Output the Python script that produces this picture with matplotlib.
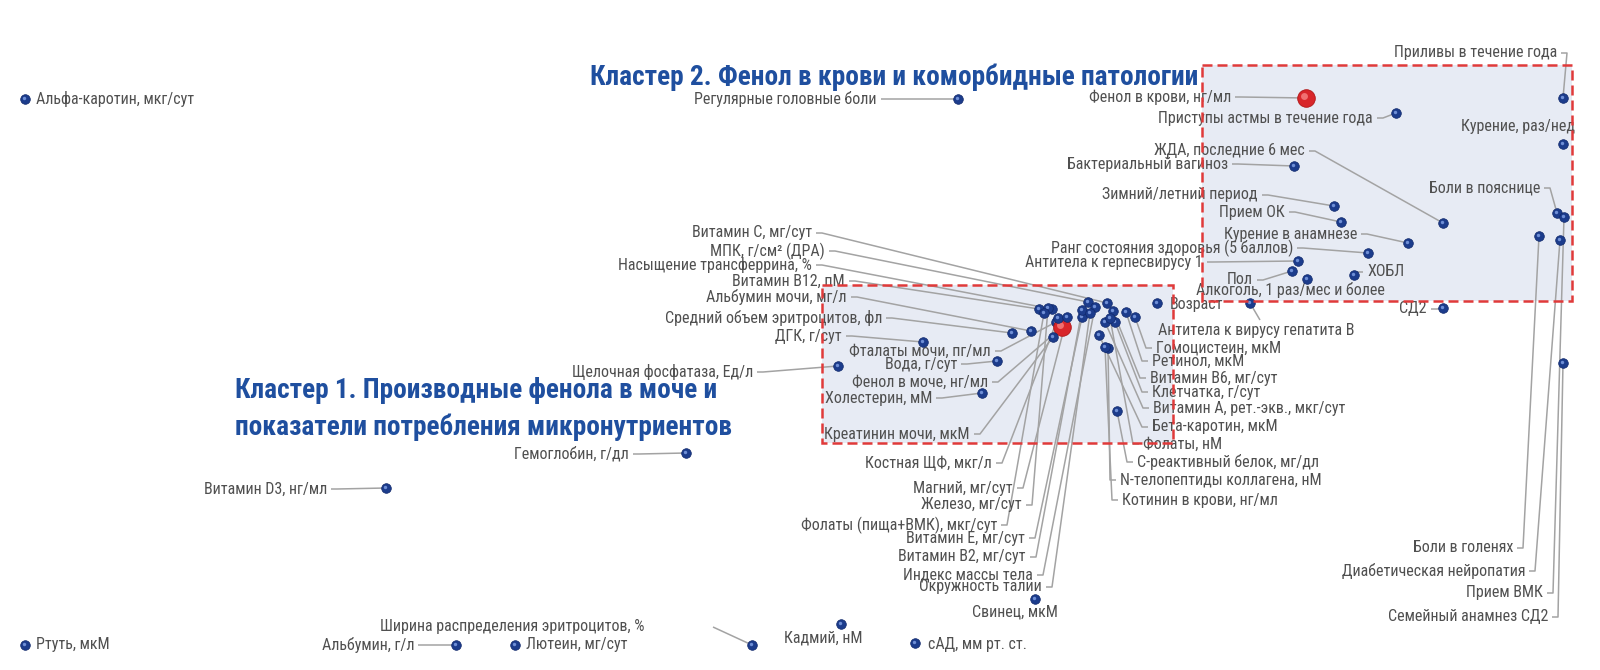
import matplotlib
matplotlib.use("Agg")
import matplotlib.pyplot as plt
from matplotlib import font_manager
from matplotlib.patches import Rectangle

# -------------------- данные: координаты показателей на карте --------------------
NAMES = [
    # отдельные показатели
    "Альфа-каротин, мкг/сут", "Регулярные головные боли", "Щелочная фосфатаза, Ед/л",
    "Гемоглобин, г/дл", "Витамин D3, нг/мл", "Ртуть, мкМ", "Альбумин, г/л",
    "Лютеин, мг/сут", "Ширина распределения эритроцитов, %", "Кадмий, нМ",
    "сАД, мм рт. ст.", "Свинец, мкМ",
    # кластер 1, слева
    "Витамин С, мг/сут", "МПК, г/см² (ДРА)", "Насыщение трансферрина, %",
    "Витамин В12, пМ", "Альбумин мочи, мг/л", "Средний объем эритроцитов, фл",
    "ДГК, г/сут", "Фталаты мочи, пг/мл", "Вода, г/сут", "Фенол в моче, нг/мл",
    "Холестерин, мМ", "Креатинин мочи, мкМ",
    # кластер 1, снизу
    "Костная ЩФ, мкг/л", "Магний, мг/сут", "Железо, мг/сут",
    "Фолаты (пища+ВМК), мкг/сут", "Витамин Е, мг/сут", "Витамин В2, мг/сут",
    "Индекс массы тела", "Окружность талии",
    # кластер 1, справа
    "Возраст", "Антитела к вирусу гепатита В", "Гомоцистеин, мкМ", "Ретинол, мкМ",
    "Витамин В6, мг/сут", "Клетчатка, г/сут", "Витамин А, рет.-экв., мкг/сут",
    "Бета-каротин, мкМ", "Фолаты, нМ", "С-реактивный белок, мг/дл",
    "N-телопептиды коллагена, нМ", "Котинин в крови, нг/мл",
    # кластер 2
    "Фенол в крови, нг/мл", "Приступы астмы в течение года", "Приливы в течение года",
    "Курение, раз/нед", "ЖДА, последние 6 мес", "Бактериальный вагиноз",
    "Зимний/летний период", "Прием ОК", "Курение в анамнезе",
    "Ранг состояния здоровья (5 баллов)", "Антитела к герпесвирусу 1", "Пол", "ХОБЛ",
    "Алкоголь, 1 раз/мес и более", "Боли в пояснице", "СД2", "Боли в голенях",
    "Диабетическая нейропатия", "Прием ВМК", "Семейный анамнез СД2",
]
X = [25, 958, 838, 686, 386, 25, 456, 515, 752, 841, 915, 1035,
     1107, 1088, 1052, 1039, 1031, 1012, 923, 1056, 997, 1062, 982, 1053,
     1058, 1067, 1048, 1044, 1082, 1082, 1095, 1090,
     1157, 1250, 1135, 1126, 1113, 1115, 1105, 1099, 1110, 1117, 1108, 1105,
     1306, 1396, 1563, 1563, 1443, 1294, 1334, 1341, 1408, 1368, 1298, 1292, 1354,
     1307, 1557, 1443, 1539, 1560, 1564, 1563]
Y = [99, 99, 366, 453, 488, 645, 645, 645, 645, 624, 643, 599,
     303, 302, 309, 309, 331, 333, 342, 322, 361, 327, 393, 337,
     318, 317, 308, 313, 317, 310, 307, 313,
     303, 303, 317, 312, 311, 322, 322, 335, 318, 411, 348, 347,
     98, 113, 98, 144, 223, 166, 206, 222, 243, 253, 261, 271, 275,
     279, 213, 308, 236, 240, 217, 363]
HIGHLIGHT = ["Фенол в крови, нг/мл", "Фенол в моче, нг/мл"]

TITLE_1 = ["Кластер 1. Производные фенола в моче и",
           "показатели потребления микронутриентов"]
TITLE_2 = "Кластер 2. Фенол в крови и коморбидные патологии"

# -------------------- раскладка подписей --------------------
# (x, y, выравнивание, выноска): "tick" - выноска от края подписи,
# "none" - без выноски, (x, y) - начало выноски
LABEL_POS = {
    "Альфа-каротин, мкг/сут": (36, 99, "left", "none"),
    "Регулярные головные боли": (877, 99, "right", "tick"),
    "Щелочная фосфатаза, Ед/л": (753, 372, "right", "tick"),
    "Гемоглобин, г/дл": (629, 454, "right", "tick"),
    "Витамин D3, нг/мл": (327, 489, "right", "tick"),
    "Ртуть, мкМ": (36, 645, "left", "none"),
    "Альбумин, г/л": (414, 645, "right", "tick"),
    "Лютеин, мг/сут": (526, 645, "left", "none"),
    "Ширина распределения эритроцитов, %": (645, 627, "right", (713, 627)),
    "Кадмий, нМ": (823, 638, "center", "none"),
    "сАД, мм рт. ст.": (928, 645, "left", "none"),
    "Свинец, мкМ": (1015, 612, "center", "none"),
    "Витамин С, мг/сут": (812, 233, "right", "tick"),
    "МПК, г/см² (ДРА)": (825, 251, "right", "tick"),
    "Насыщение трансферрина, %": (812, 265, "right", "tick"),
    "Витамин В12, пМ": (845, 281, "right", "tick"),
    "Альбумин мочи, мг/л": (847, 297, "right", "tick"),
    "Средний объем эритроцитов, фл": (882, 318, "right", "tick"),
    "ДГК, г/сут": (842, 336, "right", "tick"),
    "Фталаты мочи, пг/мл": (991, 351, "right", "tick"),
    "Вода, г/сут": (957, 364, "right", "tick"),
    "Фенол в моче, нг/мл": (988, 382, "right", "tick"),
    "Холестерин, мМ": (932, 398, "right", "tick"),
    "Креатинин мочи, мкМ": (970, 434, "right", "tick"),
    "Костная ЩФ, мкг/л": (992, 463, "right", "tick"),
    "Магний, мг/сут": (1013, 488, "right", "tick"),
    "Железо, мг/сут": (1022, 505, "right", "tick"),
    "Фолаты (пища+ВМК), мкг/сут": (997, 525, "right", "tick"),
    "Витамин Е, мг/сут": (1025, 538, "right", "tick"),
    "Витамин В2, мг/сут": (1026, 557, "right", "tick"),
    "Индекс массы тела": (1033, 575, "right", "tick"),
    "Окружность талии": (1042, 587, "right", "tick"),
    "Возраст": (1170, 305, "left", "none"),
    "Антитела к вирусу гепатита В": (1158, 330, "left", (1260, 320)),
    "Гомоцистеин, мкМ": (1156, 348, "left", "tick"),
    "Ретинол, мкМ": (1152, 361, "left", "tick"),
    "Витамин В6, мг/сут": (1150, 378, "left", "tick"),
    "Клетчатка, г/сут": (1152, 392, "left", "tick"),
    "Витамин А, рет.-экв., мкг/сут": (1153, 408, "left", "tick"),
    "Бета-каротин, мкМ": (1152, 427, "left", "tick"),
    "Фолаты, нМ": (1143, 444, "left", "tick"),
    "С-реактивный белок, мг/дл": (1137, 462, "left", "tick"),
    "N-телопептиды коллагена, нМ": (1120, 480, "left", "tick"),
    "Котинин в крови, нг/мл": (1122, 500, "left", "tick"),
    "Фенол в крови, нг/мл": (1231, 97, "right", "tick"),
    "Приступы астмы в течение года": (1373, 118, "right", "tick"),
    "Приливы в течение года": (1557, 53, "right", "tick"),
    "Курение, раз/нед": (1575, 127, "right", "none"),
    "ЖДА, последние 6 мес": (1305, 151, "right", "tick"),
    "Бактериальный вагиноз": (1228, 164, "right", "tick"),
    "Зимний/летний период": (1258, 195, "right", "tick"),
    "Прием ОК": (1285, 212, "right", "tick"),
    "Курение в анамнезе": (1357, 234, "right", "tick"),
    "Ранг состояния здоровья (5 баллов)": (1293, 248, "right", "tick"),
    "Антитела к герпесвирусу 1": (1203, 262, "right", "tick"),
    "Пол": (1253, 280, "right", "tick"),
    "ХОБЛ": (1367, 272, "left", "tick"),
    "Алкоголь, 1 раз/мес и более": (1290, 290, "center", "none"),
    "Боли в пояснице": (1540, 188, "right", "tick"),
    "СД2": (1427, 309, "right", "tick"),
    "Боли в голенях": (1513, 548, "right", "tick"),
    "Диабетическая нейропатия": (1525, 571, "right", "tick"),
    "Прием ВМК": (1543, 593, "right", "tick"),
    "Семейный анамнез СД2": (1548, 617, "right", "tick"),
}

# рамки кластеров (x0, y0, x1, y1)
BOXES = [(822, 285, 1173, 443), (1202, 65, 1572, 301)]

LABEL_COLOR = "#505050"
LINE_COLOR = "#a3a3a3"
TITLE_COLOR = "#1f4f9f"
DOT_COLOR = "#1c3c8c"
RED_COLOR = "#d8262a"


def pick_font(candidates):
    have = {f.name for f in font_manager.fontManager.ttflist}
    for name in candidates:
        if name in have:
            return name
    return "DejaVu Sans"


FONT = pick_font(["Roboto Condensed", "PT Sans Narrow", "Fira Sans Condensed",
                  "IBM Plex Sans Condensed", "Archivo Narrow"])
plt.rcParams["font.family"] = [FONT, "DejaVu Sans"]

fig = plt.figure(figsize=(16, 6.7), dpi=100)
ax = fig.add_axes([0, 0, 1, 1])
ax.set_xlim(0, 1600)
ax.set_ylim(670, 0)
ax.axis("off")

# фон рамок
for x0, y0, x1, y1 in BOXES:
    ax.add_patch(Rectangle((x0, y0), x1 - x0, y1 - y0, facecolor="#e7ebf4",
                           edgecolor="none", zorder=0))
    ax.add_patch(Rectangle((x0, y0), x1 - x0, y1 - y0, facecolor="none",
                           edgecolor="#e03a3a", lw=1.8, ls=(0, (4, 2)), zorder=6))

pts = dict(zip(NAMES, zip(X, Y)))

# подписи и выноски
for name, (lx, ly, ha, link) in LABEL_POS.items():
    px, py = pts[name]
    ax.text(lx, ly, name, ha=ha, va="center", fontsize=11.5, color=LABEL_COLOR, zorder=4)
    if link == "none":
        continue
    if link == "tick":
        sgn = 1 if ha == "right" else -1
        xs = [lx + sgn * 4, lx + sgn * 10, px]
        ys = [ly, ly, py]
    else:
        xs = [link[0], px]
        ys = [link[1], py]
    ax.plot(xs, ys, color=LINE_COLOR, lw=1.1, zorder=2, solid_capstyle="butt")

# точки
for name in NAMES:
    px, py = pts[name]
    if name in HIGHLIGHT:
        ax.scatter(px, py, s=160, color=RED_COLOR, edgecolors="#b01515", lw=0.6, zorder=5)
        ax.scatter(px - 2, py - 2, s=25, color="#f07070", lw=0, zorder=5)
    else:
        ax.scatter(px, py, s=48, color=DOT_COLOR, edgecolors="#10286a", lw=0.5, zorder=5)
        ax.scatter(px - 1.2, py - 1.2, s=6, color="#6f8fd6", lw=0, zorder=5)

# заголовки кластеров
ax.text(894, 77, TITLE_2, ha="center", va="center", fontsize=19.7, fontweight="bold",
        color=TITLE_COLOR)
for i, line in enumerate(TITLE_1):
    ax.text(235, 391 + i * 36, line, ha="left", va="center", fontsize=19.7,
            fontweight="bold", color=TITLE_COLOR)

fig.savefig("out.png", dpi=100)
